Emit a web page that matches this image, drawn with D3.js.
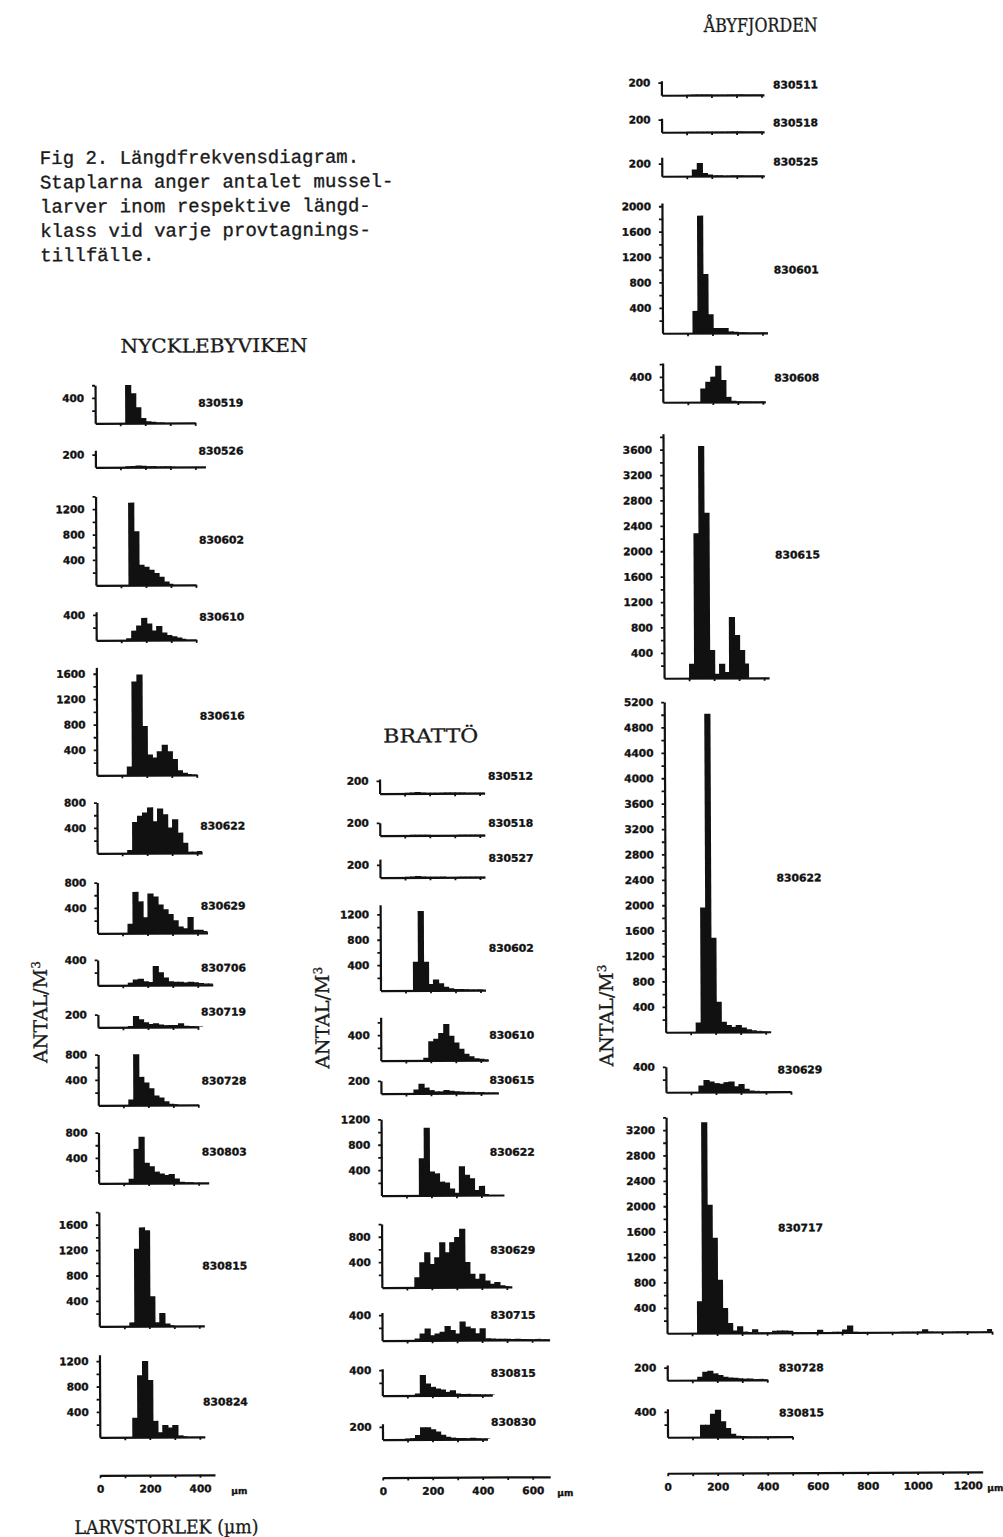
<!DOCTYPE html>
<html><head><meta charset="utf-8">
<script src="https://cdn.jsdelivr.net/npm/d3@7"></script>
<style>
body{margin:0;background:#fff;}
svg{display:block;background:#fff;}
.ax path,.ax line{stroke:#111;}
.ax path{stroke-width:2.2;}
.ax line{stroke-width:1.8;}
.ax text{font-family:"DejaVu Sans",sans-serif;font-weight:bold;font-size:10.5px;fill:#111;stroke:#111;stroke-width:0.35px;}
.plab{font-family:"DejaVu Sans",sans-serif;font-weight:bold;font-size:10.5px;fill:#111;stroke:#111;stroke-width:0.35px;}
.cap{font-family:"Liberation Mono",monospace;font-size:19px;fill:#1a1a1a;stroke:#1a1a1a;stroke-width:0.35px;}
.ttl{font-family:"DejaVu Serif",serif;font-size:19px;fill:#1a1a1a;stroke:#1a1a1a;stroke-width:0.3px;}
</style></head><body>
<svg id="chart" width="1003" height="1537"></svg>
<script>
// ================= DATA =================
const BIN = 20; // length class width, µm

// ---- NYCKLEBYVIKEN ----
const nyDates  = ["830519","830526","830602","830610","830616","830622","830629","830706","830719","830728","830803","830815","830824"];
const nyStarts = [120,120,130,120,120,120,120,120,120,120,120,120,130];
const nyYMax   = [600,270,1400,450,1700,800,800,400,200,800,800,1800,1300];
const nyXMax   = [400,440,400,400,400,420,440,460,400,400,440,420,420];
const nyTicks  = [[400],[200],[400,800,1200],[400],[400,800,1200,1600],[400,800],[400,800],[400],[200],[400,800],[400,800],[400,800,1200,1600],[400,800,1200]];
const ny830519 = [600,470,250,80,30,20,10,10];
const ny830526 = [15,20,25,20,15,15,10,10,10,5];
const ny830602 = [1300,850,320,290,240,190,130,55,20];
const ny830610 = [30,150,230,350,260,150,220,120,80,60,40,20];
const ny830616 = [135,1475,1585,775,325,275,375,475,375,250,75,35,15];
const ny830622 = [50,490,590,640,720,500,700,610,400,530,320,160,20,20,30];
const ny830629 = [150,650,500,250,625,575,450,375,300,200,100,75,250,50,50,30];
const ny830706 = [40,90,100,60,50,300,200,120,60,50,50,40,50,40,30,20,20];
const ny830719 = [20,175,125,75,50,60,40,30,30,30,60,20,15,10,10];
const ny830728 = [90,800,445,355,265,150,120,60,20,10];
const ny830803 = [70,540,730,320,265,180,150,125,140,70,20,10,10];
const ny830815 = [60,1220,1555,1510,470,60,205,40,10];
const ny830824 = [305,975,1200,900,255,75,190,150,190,25,10];
const nyValues = [ny830519,ny830526,ny830602,ny830610,ny830616,ny830622,ny830629,ny830706,ny830719,ny830728,ny830803,ny830815,ny830824];
const nyAxisLabels = [0,200,400];
const nyAxisMax = 460;

// ---- BRATTÖ ----
const brDates  = ["830512","830518","830527","830602","830610","830615","830622","830629","830715","830815","830830"];
const brStarts = [100,100,100,130,170,130,150,130,130,130,90];
const brYMax   = [230,200,290,1350,680,200,1200,1000,440,420,250];
const brXMax   = [420,420,420,420,430,470,490,520,670,440,420];
const brTicks  = [[200],[200],[200],[400,800,1200],[400],[200],[400,800,1200],[400,800],[400],[400],[200]];
const br830512 = [10,15,20,15,10,10,10,10,10,10,10,10,5,5,5,5];
const br830518 = [5,10,10,10,10,5,5,5,5,5,5,5,5,5,5,5];
const br830527 = [10,15,20,15,10,10,10,10,5,5,5,5,5,5,5,5];
const br830602 = [450,1250,450,100,170,110,55,30,20,20,15,10,10,10];
const br830610 = [40,300,340,430,570,385,280,180,100,60,30,20,10];
const br830615 = [60,150,90,50,30,30,50,40,30,25,20,20,15,15,10,10,10];
const br830622 = [585,1065,375,345,215,200,105,40,455,320,265,80,145,15];
const br830629 = [158,395,552,368,473,710,552,710,789,920,395,210,131,210,105,53,79,26,10];
const br830715 = [30,107,187,80,107,133,224,160,107,293,213,187,107,187,27,25,20,20,20,15,20,15,15,10,15,10,10];
const br830815 = [30,320,187,133,107,90,53,80,27,20,20,15,15,10,10,10];
const br830830 = [15,20,70,190,190,160,123,70,40,25,20,20,15,20,15,10,10];
const brValues = [br830512,br830518,br830527,br830602,br830610,br830615,br830622,br830629,br830715,br830815,br830830];
const brAxisLabels = [0,200,400,600];
const brAxisMax = 670;

// ---- ÅBYFJORDEN ----
const abDates  = ["830511","830518","830525","830601","830608","830615","830622","830629","830717","830728","830815"];
const abStarts = [100,100,120,120,150,100,120,130,120,120,130];
const abYMax   = [230,220,300,2050,620,3850,5200,400,3400,240,450];
const abXMax   = [410,410,410,420,410,420,420,500,1300,400,500];
const abTicks  = [[200],[200],[200],[400,800,1200,1600,2000],[400],
                  [400,800,1200,1600,2000,2400,2800,3200,3600],
                  [400,800,1200,1600,2000,2400,2800,3200,3600,4000,4400,4800,5200],
                  [400],[400,800,1200,1600,2000,2400,2800,3200],[200],[400]];
const ab830511 = [5,10,10,10,10,5,5,5,5,5,5,5,5,5,5];
const ab830518 = [5,5,5,5,5,5,5,5,5,5,5,5,5,5,5];
const ab830525 = [105,205,50,25,10,10,5,5,5,5,5,5,5,5];
const ab830601 = [350,1850,930,295,80,80,80,25,20,10,10,5,5,5,5];
const ab830608 = [213,320,400,570,345,80,20,10,5,5,5,5,5];
const ab830615 = [225,2280,3655,2605,440,68,225,94,960,675,440,225];
const ab830622 = [150,1963,5014,1486,478,160,110,80,110,70,40,25,15,10];
const ab830629 = [103,191,165,140,130,155,165,88,124,50,20,15,10,10,10,10,10,10];
const ab830717 = [500,3320,2020,1500,840,395,158,40,105,20,15,55,10,10,10,30,35,35,30,10,
                  5,5,5,10,45,10,5,10,10,45,110,10,5,5,5,5,5,5,5,5,
                  5,5,5,5,10,45,10,5,5,5,5,5,5,5,5,5,5,10,45];
const ab830728 = [52,131,147,105,79,52,40,35,25,20,20,15,15,10];
const ab830815 = [195,195,368,430,247,142,52,20,15,10,10,10,10,10,10,10,5,5];
const abValues = [ab830511,ab830518,ab830525,ab830601,ab830608,ab830615,ab830622,ab830629,ab830717,ab830728,ab830815];
const abAxisLabels = [0,200,400,600,800,1000,1200];
const abAxisMax = 1260;

// ---- texts ----
const captionLines = ["Fig 2. Längdfrekvensdiagram.","Staplarna anger antalet mussel-","larver inom respektive längd-","klass vid varje provtagnings-","tillfälle."];

// ================= LAYOUT (positions only) =================
const K = 0.0635;   // px per individual/m3
const PXUM = 0.25;  // px per µm
const nyLayout = {x0:96.8, labelX:200, axisY:1473.5, unitX:236,
  base:[421.5,465.5,583.5,638.5,773.5,851.5,931.5,983.5,1025.5,1103.5,1181.5,1324.5,1435.5],
  labelY:[401.5,449.5,538.5,615.5,714.5,824.5,904.5,966.5,1010.5,1079.5,1150.5,1264.5,1400.5]};
const brLayout = {x0:379.5, labelX:488, axisY:1477, unitX:562,
  base:[793,835,877,990,1060,1093,1195,1287,1340,1395,1439],
  labelY:[776,823,858,948,1035,1080,1152,1250,1315,1373,1422]};
const abLayout = {x0:664.5, labelX:776, axisY:1474, unitX:992,
  base:[96,133,177,334,403,679,1033,1093,1334,1381,1438],
  labelY:[86,124,163,271,379,556,879,1071,1229,1369,1414]};

// ================= DRAW =================
const svg = d3.select("#chart");
const root = svg.append("g").attr("transform","rotate(-0.26,500,770)");
const INK = "#111";

function drawColumn(dates, starts, yMaxes, xMaxes, ticks, values, L, axisLabels, axisMax) {
  dates.forEach((date, i) => {
    const base = L.base[i], yMax = yMaxes[i], xMax = xMaxes[i];
    const x = d3.scaleLinear().domain([0, xMax]).range([L.x0, L.x0 + xMax*PXUM]);
    const y = d3.scaleLinear().domain([0, yMax]).range([base, base - yMax*K]);
    const g = root.append("g");
    const bars = values[i].map((v, j) => ({lo: starts[i] + j*BIN, v}));
    const n = bars.length;
    g.selectAll("rect").data(bars).join("rect")
      .attr("x", d => x(d.lo))
      .attr("width", (d, j) => x(BIN) - x(0) + (j < n - 1 ? 1.2 : 0))
      .attr("y", d => y(d.v))
      .attr("height", d => base - y(d.v))
      .attr("fill", INK);
    const lab = ticks[i];
    g.append("g").attr("class","ax").attr("transform",`translate(${L.x0},0)`)
      .call(d3.axisLeft(y).tickValues(d3.range(200, yMax + 1, 200)).tickSize(3).tickSizeOuter(0).tickPadding(8)
        .tickFormat(d => lab.includes(d) ? d : ""));
    g.append("g").attr("class","ax").attr("transform",`translate(0,${base})`)
      .call(d3.axisBottom(x).tickValues(d3.range(100, xMax + 1, 100)).tickSize(3).tickSizeOuter(0).tickFormat(""));
    g.append("text").attr("class","plab").attr("x", L.labelX).attr("y", L.labelY[i]).attr("dy","0.36em")
      .attr("textLength", 45).attr("lengthAdjust","spacingAndGlyphs").text(date);
  });
  // reference size axis
  const xs = d3.scaleLinear().domain([0, axisMax]).range([L.x0, L.x0 + axisMax*PXUM]);
  root.append("g").attr("class","ax").attr("transform",`translate(0,${L.axisY})`)
    .call(d3.axisBottom(xs).tickValues(d3.range(0, axisMax + 1, 100)).tickSize(3).tickSizeOuter(0).tickPadding(7)
      .tickFormat(d => axisLabels.includes(d) ? d : ""));
  root.append("text").attr("class","plab").attr("x", L.unitX).attr("y", L.axisY + 16).attr("dy","0.36em")
    .attr("text-anchor","middle").style("font-size","9px").text("µm");
}

drawColumn(nyDates, nyStarts, nyYMax, nyXMax, nyTicks, nyValues, nyLayout, nyAxisLabels, nyAxisMax);
drawColumn(brDates, brStarts, brYMax, brXMax, brTicks, brValues, brLayout, brAxisLabels, brAxisMax);
drawColumn(abDates, abStarts, abYMax, abXMax, abTicks, abValues, abLayout, abAxisLabels, abAxisMax);

// caption
captionLines.forEach((t, i) => {
  root.append("text").attr("class","cap").attr("x", 42.6).attr("y", 162 + i*24.3).text(t);
});

// titles
const titles = [
  {t:"ÅBYFJORDEN", x:764, y:33, w:114},
  {t:"NYCKLEBYVIKEN", x:216, y:351, w:187},
  {t:"BRATTÖ", x:431, y:742, w:95},
  {t:"LARVSTORLEK (µm)", x:163, y:1532, w:184}
];
titles.forEach(d => {
  root.append("text").attr("class","ttl").attr("x", d.x).attr("y", d.y).attr("text-anchor","middle")
    .attr("textLength", d.w).attr("lengthAdjust","spacingAndGlyphs").text(d.t);
});

// y titles
[[46,1010],[328,1017],[612,1016]].forEach(([cx, cy]) => {
  const t = root.append("text").attr("class","ttl").attr("text-anchor","middle")
    .attr("transform",`translate(${cx},${cy}) rotate(-90)`);
  t.append("tspan").text("ANTAL/M");
  t.append("tspan").attr("dy","-7").style("font-size","12px").text("3");
});
</script>
</body></html>
